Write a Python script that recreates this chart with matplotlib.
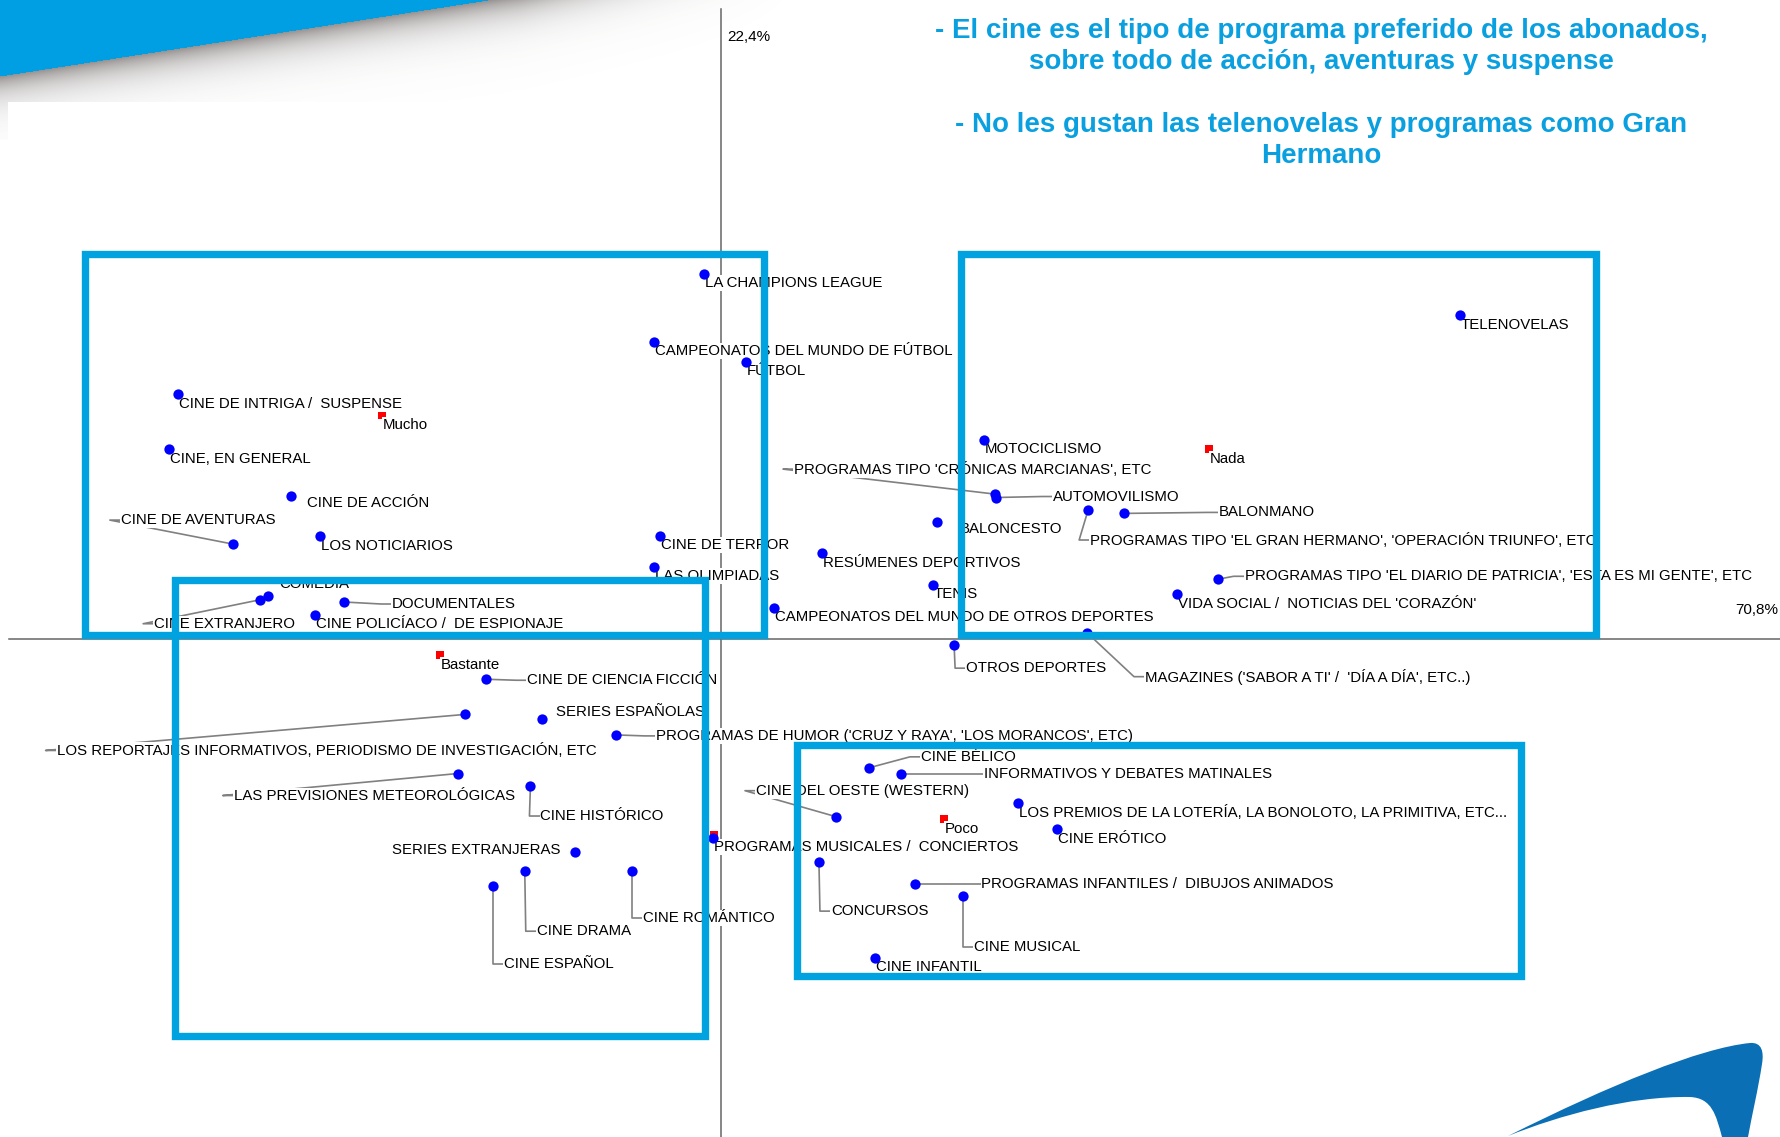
import numpy as np
import matplotlib
matplotlib.use('Agg')
import matplotlib.pyplot as plt
from matplotlib.patches import Rectangle, PathPatch
from matplotlib.path import Path

# modalidades (programas) y sus coordenadas en el plano factorial
programas = [
    "LA CHAMPIONS LEAGUE", "CAMPEONATOS DEL MUNDO DE FÚTBOL", "FÚTBOL",
    "CINE DE INTRIGA /  SUSPENSE", "CINE, EN GENERAL", "CINE DE ACCIÓN",
    "CINE DE AVENTURAS", "LOS NOTICIARIOS", "COMEDIA", "CINE EXTRANJERO",
    "DOCUMENTALES", "CINE POLICÍACO /  DE ESPIONAJE", "CINE DE TERROR",
    "LAS OLIMPIADAS", "CAMPEONATOS DEL MUNDO DE OTROS DEPORTES",
    "PROGRAMAS TIPO 'CRÓNICAS MARCIANAS', ETC", "AUTOMOVILISMO", "MOTOCICLISMO",
    "BALONMANO", "PROGRAMAS TIPO 'EL GRAN HERMANO', 'OPERACIÓN TRIUNFO', ETC",
    "BALONCESTO", "RESÚMENES DEPORTIVOS", "TENIS",
    "PROGRAMAS TIPO 'EL DIARIO DE PATRICIA', 'ESTA ES MI GENTE', ETC",
    "VIDA SOCIAL /  NOTICIAS DEL 'CORAZÓN'", "TELENOVELAS",
    "MAGAZINES ('SABOR A TI' /  'DÍA A DÍA', ETC..)", "OTROS DEPORTES",
    "CINE DE CIENCIA FICCIÓN", "SERIES ESPAÑOLAS",
    "LOS REPORTAJES INFORMATIVOS, PERIODISMO DE INVESTIGACIÓN, ETC",
    "PROGRAMAS DE HUMOR ('CRUZ Y RAYA', 'LOS MORANCOS', ETC)",
    "LAS PREVISIONES METEOROLÓGICAS", "CINE HISTÓRICO", "SERIES EXTRANJERAS",
    "CINE DRAMA", "CINE ROMÁNTICO", "CINE ESPAÑOL",
    "PROGRAMAS MUSICALES /  CONCIERTOS", "CINE BÉLICO",
    "INFORMATIVOS Y DEBATES MATINALES", "CINE DEL OESTE (WESTERN)",
    "LOS PREMIOS DE LA LOTERÍA, LA BONOLOTO, LA PRIMITIVA, ETC...",
    "CINE ERÓTICO", "CONCURSOS", "PROGRAMAS INFANTILES /  DIBUJOS ANIMADOS",
    "CINE MUSICAL", "CINE INFANTIL",
]
prog_x = [-0.060, -0.236, 0.088, -1.912, -1.944, -1.516, -1.720, -1.412, -1.596, -1.624,
          -1.328, -1.432, -0.216, -0.236, 0.184, 0.964, 0.968, 0.924, 1.420, 1.292,
          0.760, 0.356, 0.744, 1.748, 1.604, 2.600, 1.288, 0.820, -0.828, -0.632,
          -0.904, -0.372, -0.928, -0.672, -0.516, -0.692, -0.316, -0.804, -0.028, 0.520,
          0.632, 0.404, 1.044, 1.184, 0.344, 0.684, 0.852, 0.540]
prog_y = [1.288, 1.048, 0.976, 0.864, 0.672, 0.504, 0.336, 0.364, 0.152, 0.140,
          0.132, 0.088, 0.364, 0.256, 0.112, 0.512, 0.500, 0.704, 0.444, 0.456,
          0.412, 0.304, 0.192, 0.212, 0.160, 1.144, 0.024, -0.020, -0.140, -0.280,
          -0.264, -0.336, -0.472, -0.516, -0.748, -0.816, -0.816, -0.868, -0.700, -0.452,
          -0.472, -0.624, -0.576, -0.668, -0.784, -0.860, -0.904, -1.120]

# modalidades de la variable de grado de uso
niveles = ["Mucho", "Nada", "Bastante", "Poco", ""]
niv_x = [-1.196, 1.716, -0.992, 0.784, -0.026]
niv_y = [0.792, 0.672, -0.056, -0.632, -0.690]

inercia = ["22,4%", "70,8%"]

# zonas destacadas (x0, x1, y0, y1)
zonas = [(-2.24, 0.152, 0.016, 1.356), (0.844, 3.080, 0.016, 1.356),
         (-1.924, -0.056, -1.396, 0.208), (0.268, 2.816, -1.184, -0.372)]

titulo = ["- El cine es el tipo de programa preferido de los abonados,\nsobre todo de acción, aventuras y suspense",
          "- No les gustan las telenovelas y programas como Gran\nHermano"]

# desplazamiento de cada etiqueta en pixeles (dx, dy hacia abajo, con guia)
desp = [(1, 9, 0), (1, 9, 0), (1, 9, 0), (1, 10, 0), (1, 10, 0), (16, 7, 0),
        (-112, -24, 1), (1, 10, 0), (11, -12, 0), (-106, 24, 1), (48, 2, 1), (1, 9, 0),
        (1, 9, 0), (1, 9, 0), (1, 9, 0), (-201, -25, 1), (57, -1, 1), (1, 9, 0),
        (94, -1, 1), (2, 30, 1), (23, 7, 0), (1, 10, 0), (1, 9, 0), (27, -3, 1),
        (1, 10, 0), (1, 10, 0), (58, 44, 1), (12, 23, 1), (41, 1, 1), (14, -7, 0),
        (-408, 36, 1), (40, 1, 1), (-224, 22, 1), (10, 30, 1), (-14, -2, 2), (12, 60, 1),
        (11, 47, 1), (11, 78, 1), (1, 9, 0), (52, -11, 1), (83, 0, 1), (-80, -26, 1),
        (1, 9, 0), (1, 10, 0), (12, 49, 1), (66, 0, 1), (11, 51, 1), (1, 9, 0)]

W, H = 1781, 1137
fig = plt.figure(figsize=(W / 100, H / 100), dpi=100)
fig.patch.set_facecolor('white')

# fondo decorativo en pixeles
bg = fig.add_axes([0, 0, 1, 1])
bg.axis('off')
yy, xx = np.mgrid[0:140, 0:820]
d = yy - (76 - 76 * xx / 488.0)
img = np.ones((140, 820, 4))
azul = np.array([0, 159, 227]) / 255.0
gris = np.array([115, 110, 108]) / 255.0
img[..., :3] = np.where((d < 0)[..., None], azul, gris)
alpha = np.where(d < 0, 1.0, 0.75 * np.exp(-np.clip(d, 0, None) / 18.0))
alpha = np.where(d < 0, alpha, alpha * np.clip((800 - xx) / 280.0, 0, 1))
alpha[(xx >= 8) & (yy >= 102)] = 0
img[..., 3] = alpha
bg.imshow(img, extent=(0, 820, 140, 0), interpolation='bilinear', aspect='auto')

verts = [(1508, 1136),
         (1610, 1085), (1700, 1048), (1750, 1043),
         (1762, 1042), (1764, 1052), (1762, 1064),
         (1758, 1090), (1752, 1115), (1748, 1137),
         (1722, 1137),
         (1716, 1115), (1712, 1098), (1690, 1097),
         (1630, 1096), (1560, 1115), (1508, 1136),
         (1508, 1136)]
codes = [Path.MOVETO] + [Path.CURVE4] * 9 + [Path.LINETO] + [Path.CURVE4] * 6 + [Path.CLOSEPOLY]
bg.add_patch(PathPatch(Path(verts, codes), fc='#0A6FB5', ec='none'))
bg.set_xlim(0, W)
bg.set_ylim(H, 0)

# mapa factorial
ax = fig.add_axes([0, 0, 1, 1])
ax.patch.set_alpha(0)
ax.axis('off')
xlim = (-2.54, 3.732)
ylim = (-1.752, 2.252)
ax.set_xlim(*xlim)
ax.set_ylim(*ylim)
sx = W / (xlim[1] - xlim[0])
sy = H / (ylim[1] - ylim[0])

ax.plot([0, 0], [ylim[0], 2.22], color='#666666', lw=1.1, zorder=1)
ax.plot([-2.508, xlim[1]], [0, 0], color='#666666', lw=1.1, zorder=1)

fuente = 'Liberation Sans'
caja = dict(fc='white', ec='none', pad=0.6)

for nombre, x, y, (dx, dy, guia) in zip(programas, prog_x, prog_y, desp):
    tx = x + dx / sx
    ty = y - dy / sy
    ha = 'left'
    if guia == 1:
        gx = tx - 11 / sx
        ax.plot([x, gx, tx], [y, ty, ty], color='#808080', lw=1.2, zorder=2)
    if guia == 2:
        ha = 'right'
    ax.text(tx, ty, nombre, ha=ha, va='center', fontsize=10.8, family=fuente,
            color='black', bbox=caja, zorder=4)

ax.scatter(niv_x, niv_y, marker='s', s=34, color='red', zorder=3, linewidths=0)
for nombre, x, y in zip(niveles, niv_x, niv_y):
    if nombre:
        ax.text(x + 1 / sx, y - 10 / sy, nombre, ha='left', va='center', fontsize=10.8,
                family=fuente, color='black', bbox=caja, zorder=4)

ax.scatter(prog_x, prog_y, s=55, color='#0000FF', zorder=5, linewidths=0)

for x0, x1, y0, y1 in zonas:
    ax.add_patch(Rectangle((x0, y0), x1 - x0, y1 - y0, fill=False, ec='#00A3E0',
                           lw=5.3, zorder=6, joinstyle='miter'))

ax.text(0.02, 2.12, inercia[0], ha='left', va='center', fontsize=11, family=fuente)
ax.text(3.572, 0.104, inercia[1], ha='left', va='center', fontsize=11, family=fuente)

fig.text(0.7417, 0.9595, titulo[0], ha='center', va='center', fontsize=20,
         fontweight='bold', color='#0AA0E0', family=fuente, linespacing=1.25)
fig.text(0.7417, 0.8760, titulo[1], ha='center', va='center', fontsize=20,
         fontweight='bold', color='#0AA0E0', family=fuente, linespacing=1.25)

fig.savefig('out.png', dpi=100, facecolor='white')
